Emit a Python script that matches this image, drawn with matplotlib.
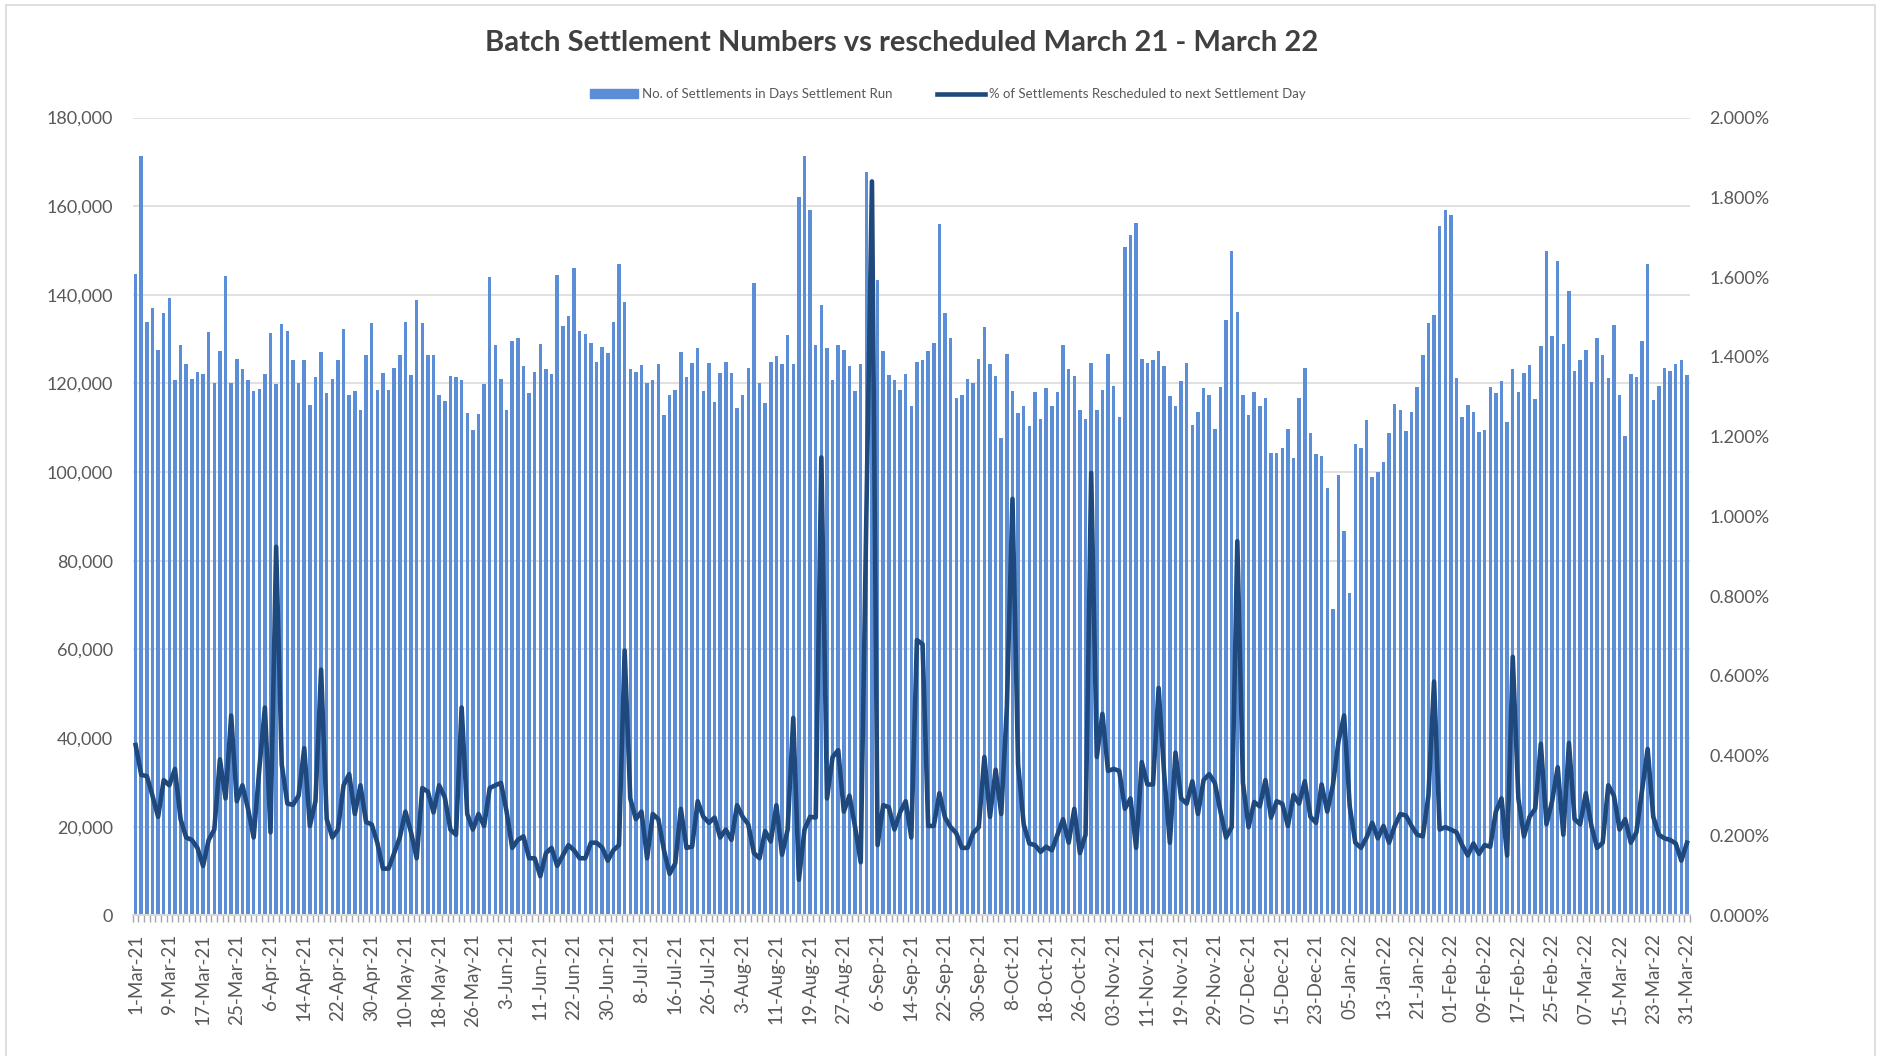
import numpy as np
import matplotlib
matplotlib.use('Agg')
import matplotlib.pyplot as plt
from matplotlib.ticker import FuncFormatter
from matplotlib.lines import Line2D
from matplotlib.patches import Patch

plt.rcParams['font.family'] = ['Lato', 'DejaVu Sans']

# ---------------- data ----------------
tick_labels = [
    "1-Mar-21", "9-Mar-21", "17-Mar-21", "25-Mar-21", "6-Apr-21", "14-Apr-21", "22-Apr-21",
    "30-Apr-21", "10-May-21", "18-May-21", "26-May-21", "3-Jun-21", "11-Jun-21", "22-Jun-21",
    "30-Jun-21", "8-Jul-21", "16-Jul-21", "26-Jul-21", "3-Aug-21", "11-Aug-21", "19-Aug-21",
    "27-Aug-21", "6-Sep-21", "14-Sep-21", "22-Sep-21", "30-Sep-21", "8-Oct-21", "18-Oct-21",
    "26-Oct-21", "03-Nov-21", "11-Nov-21", "19-Nov-21", "29-Nov-21", "07-Dec-21", "15-Dec-21",
    "23-Dec-21", "05-Jan-22", "13-Jan-22", "21-Jan-22", "01-Feb-22", "09-Feb-22", "17-Feb-22",
    "25-Feb-22", "07-Mar-22", "15-Mar-22", "23-Mar-22", "31-Mar-22",
]

settlements_k = [
    144.7, 171.3, 133.8, 137.0, 127.6, 136.0, 139.2, 120.7, 128.7, 124.3,
    121.0, 122.7, 122.1, 131.6, 120.2, 127.3, 144.3, 120.2, 125.6, 123.3,
    120.7, 118.4, 118.8, 122.1, 131.3, 119.8, 133.4, 131.9, 125.4, 120.2,
    125.4, 115.2, 121.4, 127.0, 117.8, 121.0, 125.4, 132.3, 117.5, 118.4,
    114.0, 126.5, 133.6, 118.6, 122.4, 118.6, 123.6, 126.5, 133.8, 121.9,
    138.8, 133.6, 126.5, 126.5, 117.3, 116.1, 121.7, 121.4, 120.7, 113.4,
    109.6, 113.2, 119.8, 144.0, 128.7, 121.0, 114.0, 129.6, 130.3, 123.9,
    117.9, 122.7, 128.9, 123.3, 122.1, 144.5, 133.0, 135.2, 146.0, 131.9,
    131.1, 129.2, 124.9, 128.3, 126.9, 133.8, 147.0, 138.3, 123.3, 122.7,
    124.2, 120.2, 120.7, 124.5, 113.0, 117.3, 118.6, 127.2, 121.4, 124.7,
    128.1, 118.4, 124.7, 115.9, 122.4, 124.9, 122.4, 114.5, 117.3, 123.6,
    142.7, 120.2, 115.7, 124.9, 126.2, 124.5, 131.0, 124.5, 162.1, 171.3,
    159.2, 128.7, 137.7, 128.1, 120.7, 128.7, 127.6, 123.9, 118.4, 124.5,
    167.8, 140.0, 143.3, 127.4, 121.9, 120.7, 118.6, 122.1, 114.9, 124.9,
    125.2, 127.4, 129.2, 155.9, 136.0, 130.3, 116.7, 117.5, 121.0, 120.2,
    125.6, 132.7, 124.3, 121.7, 107.8, 126.7, 118.4, 113.4, 114.9, 110.4,
    118.1, 112.0, 119.0, 114.9, 118.1, 128.7, 123.2, 121.7, 114.0, 112.0,
    124.7, 114.0, 118.6, 126.7, 119.5, 112.5, 150.8, 153.5, 156.2, 125.6,
    124.7, 125.2, 127.4, 123.9, 117.2, 115.0, 120.6, 124.7, 110.6, 113.6,
    119.0, 117.5, 109.8, 119.2, 134.3, 149.8, 136.2, 117.3, 113.0, 118.1,
    114.9, 116.7, 104.3, 104.3, 105.4, 109.8, 103.3, 116.7, 123.6, 108.8,
    104.2, 103.6, 96.5, 69.1, 99.3, 86.7, 72.7, 106.3, 105.4, 111.8,
    98.9, 100.1, 102.3, 108.8, 115.4, 114.0, 109.2, 113.6, 119.2, 126.5,
    133.6, 135.5, 155.6, 159.2, 158.1, 121.2, 112.4, 115.2, 113.6, 109.0,
    109.5, 119.2, 117.8, 120.5, 111.2, 123.2, 118.1, 122.4, 124.1, 116.5,
    128.5, 149.8, 130.8, 147.7, 128.9, 140.9, 122.8, 125.4, 127.6, 120.4,
    130.3, 126.5, 121.2, 133.1, 117.3, 108.2, 122.2, 121.4, 129.6, 147.0,
    116.3, 119.5, 123.6, 122.9, 124.3, 125.2, 122.0,
]

rescheduled_pct = [
    0.427, 0.352, 0.349, 0.300, 0.247, 0.339, 0.326, 0.367, 0.241, 0.195,
    0.189, 0.169, 0.124, 0.189, 0.215, 0.391, 0.293, 0.501, 0.286, 0.326,
    0.267, 0.195, 0.365, 0.521, 0.208, 0.924, 0.378, 0.280, 0.277, 0.300,
    0.419, 0.224, 0.286, 0.616, 0.241, 0.195, 0.215, 0.326, 0.354, 0.254,
    0.326, 0.234, 0.228, 0.182, 0.117, 0.117, 0.156, 0.195, 0.260, 0.208,
    0.143, 0.319, 0.310, 0.258, 0.326, 0.296, 0.215, 0.202, 0.521, 0.254,
    0.215, 0.254, 0.224, 0.319, 0.326, 0.332, 0.260, 0.169, 0.189, 0.198,
    0.143, 0.143, 0.098, 0.156, 0.169, 0.124, 0.150, 0.176, 0.163, 0.143,
    0.143, 0.182, 0.182, 0.170, 0.137, 0.163, 0.176, 0.664, 0.293, 0.241,
    0.260, 0.143, 0.254, 0.241, 0.163, 0.104, 0.130, 0.267, 0.169, 0.172,
    0.286, 0.247, 0.232, 0.245, 0.195, 0.215, 0.189, 0.276, 0.247, 0.228,
    0.156, 0.143, 0.211, 0.185, 0.276, 0.152, 0.215, 0.495, 0.089, 0.215,
    0.247, 0.245, 1.148, 0.293, 0.397, 0.414, 0.260, 0.300, 0.221, 0.133,
    1.000, 1.840, 0.176, 0.276, 0.271, 0.215, 0.258, 0.286, 0.195, 0.690,
    0.680, 0.224, 0.224, 0.306, 0.245, 0.221, 0.206, 0.169, 0.169, 0.206,
    0.221, 0.397, 0.247, 0.365, 0.254, 0.521, 1.044, 0.378, 0.228, 0.180,
    0.176, 0.159, 0.172, 0.163, 0.202, 0.241, 0.182, 0.267, 0.156, 0.202,
    1.109, 0.397, 0.505, 0.362, 0.367, 0.362, 0.267, 0.293, 0.169, 0.384,
    0.328, 0.328, 0.570, 0.352, 0.182, 0.408, 0.293, 0.280, 0.336, 0.254,
    0.339, 0.354, 0.332, 0.260, 0.195, 0.221, 0.938, 0.332, 0.221, 0.284,
    0.273, 0.339, 0.245, 0.286, 0.280, 0.224, 0.302, 0.280, 0.336, 0.247,
    0.232, 0.328, 0.260, 0.326, 0.436, 0.501, 0.273, 0.182, 0.169, 0.195,
    0.232, 0.193, 0.224, 0.182, 0.224, 0.254, 0.250, 0.224, 0.202, 0.198,
    0.300, 0.586, 0.215, 0.221, 0.215, 0.208, 0.176, 0.150, 0.180, 0.154,
    0.176, 0.172, 0.260, 0.293, 0.150, 0.648, 0.293, 0.198, 0.247, 0.267,
    0.430, 0.228, 0.286, 0.371, 0.202, 0.432, 0.241, 0.228, 0.306, 0.224,
    0.169, 0.182, 0.326, 0.300, 0.215, 0.241, 0.182, 0.208, 0.313, 0.417,
    0.247, 0.202, 0.193, 0.189, 0.180, 0.137, 0.182,
]

title = "Batch Settlement Numbers vs rescheduled March 21 - March 22"
bar_label = "No. of Settlements in Days Settlement Run"
line_label = "% of Settlements Rescheduled to next Settlement Day"

# ---------------- figure ----------------
settlements = np.array(settlements_k) * 1000
pct = np.array(rescheduled_pct)
n = len(settlements)
x = np.arange(n)

W, H = 1881, 1056
fig = plt.figure(figsize=(W / 100, H / 100), dpi=100)
fig.patch.set_facecolor('white')

left, right = 132.8 / W, 1689.8 / W
bottom, top = 1 - 915.3 / H, 1 - 117.6 / H
ax = fig.add_axes([left, bottom, right - left, top - bottom])
ax2 = ax.twinx()

bar_color = '#5B8ED6'
line_color = '#1F497D'
text_color = '#595959'

ax.bar(x, settlements, width=0.62, color=bar_color, zorder=2)
ax2.plot(x, pct, color=line_color, lw=3.3, solid_joinstyle='round', zorder=3)

ax.set_xlim(-0.5, n - 0.5)
ax.set_ylim(0, 180000)
ax.set_yticks(np.arange(0, 180001, 20000))
ax.yaxis.set_major_formatter(FuncFormatter(lambda v, _: f'{int(v):,}'))
ax2.set_ylim(0, 2.0)
ax2.set_yticks(np.arange(0, 2.0001, 0.2))
ax2.yaxis.set_major_formatter(FuncFormatter(lambda v, _: f'{v:.3f}%'))

ax.grid(axis='y', color='#D9D9D9', lw=1.1, zorder=0)
ax.set_axisbelow(True)

for a in (ax, ax2):
    for s in ('top', 'left', 'right'):
        a.spines[s].set_visible(False)
    a.spines['bottom'].set_color('#D9D9D9')
    a.spines['bottom'].set_linewidth(1.2)

ax.set_xticks(np.arange(0, n, 6))
ax.set_xticklabels(tick_labels, rotation=90, fontsize=13.5, color=text_color)
ax.set_xticks(np.arange(-0.5, n, 1), minor=True)
ax.tick_params(axis='x', which='major', length=0, pad=13)
ax.tick_params(axis='x', which='minor', length=5, width=1, color='#A6A6A6')
ax.tick_params(axis='y', length=0, pad=14, labelsize=13, labelcolor=text_color)
ax2.tick_params(axis='y', length=0, pad=14, labelsize=13, labelcolor=text_color)

fig.text(902 / W, 1 - 43 / H, title, ha='center', va='center',
         fontsize=21, fontweight='bold', color='#404040')

handles = [Patch(facecolor=bar_color, edgecolor=bar_color),
           Line2D([0], [0], color=line_color, lw=3.3)]
fig.legend(handles, [bar_label, line_label], loc='center',
           bbox_to_anchor=(948 / W, 1 - 94 / H), ncol=2, frameon=False,
           fontsize=9.5, labelcolor=text_color, handlelength=3.6,
           handleheight=0.6, columnspacing=3.4, handletextpad=0.3)

# chart border
border = plt.Rectangle((6 / W, -0.01), (W - 12) / W, 1 - 5 / H + 0.01,
                       transform=fig.transFigure, fill=False,
                       edgecolor='#D9D9D9', lw=1.2)
fig.patches.append(border)

fig.savefig('out.png', dpi=100)
